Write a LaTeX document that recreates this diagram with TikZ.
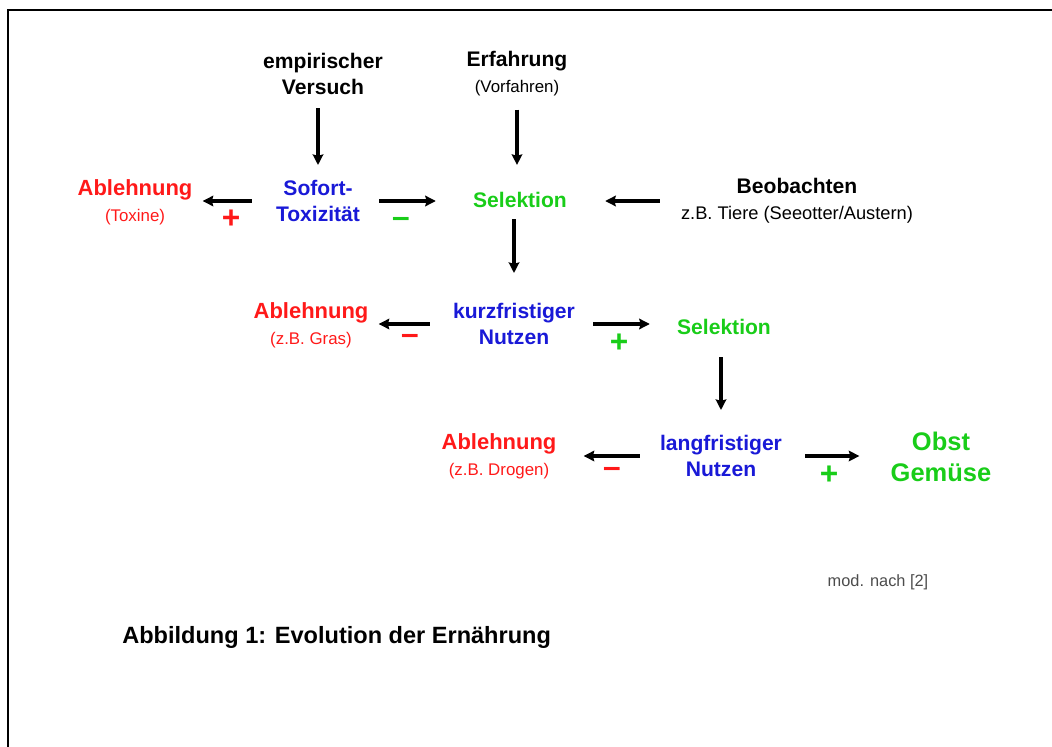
\documentclass[tikz,border=0pt]{standalone}
\usepackage{fontspec}
\setmainfont{Liberation Sans}
\usetikzlibrary{arrows.meta}

\definecolor{ablrot}{RGB}{255,25,25}
\definecolor{nutzblau}{RGB}{25,25,215}
\definecolor{selgruen}{RGB}{25,205,25}
\newcommand{\kleinschrift}{\mdseries\fontsize{9.6}{14.7}\selectfont}

\begin{document}
\begin{tikzpicture}[x=0.02cm, y=-0.02cm, >={Stealth[length=6pt,width=6pt,inset=0.8pt]},
    arr/.style={->, line width=1.8pt},
    haupt/.style={font=\bfseries\fontsize{12}{14.7}\selectfont, align=center, inner sep=0pt},
    zeichen/.style={font=\bfseries\fontsize{18}{18}\selectfont, inner sep=0pt}]
	\useasboundingbox (0,0) rectangle (1052,747);
	
	% Rahmen
	\draw[line width=1.4pt] (8,747) -- (8,10) -- (1052,10);
	
	% obere Reihe
	\node[haupt] (versuch) at (323,74) {empirischer\\Versuch};
	\node[haupt] (erfahrung) at (517,74) {Erfahrung\\{\kleinschrift (Vorfahren)}};
	\node[haupt, text=nutzblau] (sofort) at (318,201) {Sofort-\\Toxizität};
	\node[haupt, text=ablrot, font=\bfseries\fontsize{12.5}{14.7}\selectfont] (abl1) at (135,202) {Ablehnung\\{\kleinschrift (Toxine)}};
	\node[haupt, text=selgruen] (sel1) at (520,200) {Selektion};
	\node[haupt] (beob) at (797,201) {Beobachten\\{\mdseries\fontsize{10.4}{14.7}\selectfont z.B. Tiere (Seeotter/Austern)}};
	
	% mittlere Reihe
	\node[haupt, text=nutzblau] (kurz) at (514,324) {kurzfristiger\\Nutzen};
	\node[haupt, text=ablrot, font=\bfseries\fontsize{12.5}{14.7}\selectfont] (abl2) at (311,325) {Ablehnung\\{\kleinschrift (z.B. Gras)}};
	\node[haupt, text=selgruen] (sel2) at (724,327) {Selektion};
	
	% untere Reihe
	\node[haupt, text=nutzblau] (lang) at (721,456) {langfristiger\\Nutzen};
	\node[haupt, text=ablrot, font=\bfseries\fontsize{12.5}{14.7}\selectfont] (abl3) at (499,456) {Ablehnung\\{\kleinschrift (z.B. Drogen)}};
	\node[haupt, text=selgruen, font=\bfseries\fontsize{14.5}{17.5}\selectfont] (obst) at (941,457) {Obst\\Gemüse};
	
	\node[inner sep=0pt, text=black!70, font=\fontsize{9.3}{11}\selectfont] (quelle) at (878,582) {mod. nach [2]};
	\node[anchor=west, inner sep=0pt, font=\bfseries\fontsize{13.4}{15}\selectfont] (titel) at (122,637) {Abbildung 1: Evolution der Ernährung};
	
	% Vorzeichen
	\node[zeichen, text=ablrot] (p1) at (231,219) {+};
	\node[zeichen, text=selgruen] (m1) at (401,222) {–};
	\node[zeichen, text=ablrot] (m2) at (410,339) {–};
	\node[zeichen, text=selgruen] (p2) at (619,343) {+};
	\node[zeichen, text=ablrot] (m3) at (612,472) {–};
	\node[zeichen, text=selgruen] (p3) at (829,475) {+};
	
	% Pfeile
	\draw[arr, shorten <=0.26cm, shorten >=0.3cm] (versuch.south -| sofort) -- (sofort.north);
	\draw[arr, shorten <=0.26cm, shorten >=0.54cm] (erfahrung.south) -- (sel1.north -| erfahrung);
	\draw[arr, shorten <=0.48cm, shorten >=0.2cm] (sofort.west) -- (sofort.west -| abl1.east);
	\draw[arr, shorten <=0.38cm, shorten >=0.74cm] (sofort.east) -- (sofort.east -| sel1.west);
	\draw[arr, shorten <=0.42cm, shorten >=0.76cm] (beob.west) -- (beob.west -| sel1.east);
	\draw[arr, shorten <=0.22cm, shorten >=0.6cm] (sel1.south -| 514,0) -- (kurz.north -| 514,0);
	\draw[arr, shorten <=0.46cm, shorten >=0.2cm] (kurz.west) -- (kurz.west -| abl2.east);
	\draw[arr, shorten <=0.36cm, shorten >=0.54cm] (kurz.east) -- (kurz.east -| sel2.west);
	\draw[arr, shorten <=0.44cm, shorten >=0.5cm] (sel2.south -| lang) -- (lang.north);
	\draw[arr, shorten <=0.4cm, shorten >=0.54cm] (lang.west) -- (lang.west -| abl3.east);
	\draw[arr, shorten <=0.46cm, shorten >=0.62cm] (lang.east) -- (lang.east -| obst.west);
\end{tikzpicture}
\end{document}
